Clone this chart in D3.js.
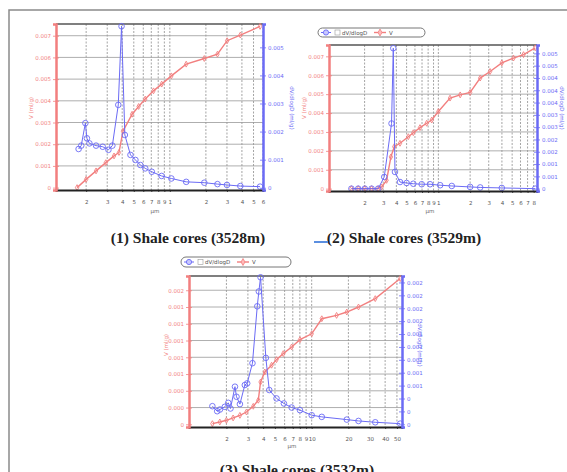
<!DOCTYPE html>
<html>
<head>
<meta charset="utf-8">
<script src="https://cdn.jsdelivr.net/npm/d3@7/dist/d3.min.js"></script>
<style>
  body { margin: 0; background: #fff; }
  svg { display: block; }
</style>
</head>
<body>
<script>
// (1) Shale cores (3528m)
const C1_V_D  = [0.168, 0.2, 0.242, 0.292, 0.342, 0.376, 0.406, 0.484, 0.549, 0.623, 0.73, 0.855, 1.03, 1.37, 1.94, 2.5, 3.01, 3.88, 5.67];
const C1_V    = [0, 0.00038, 0.00077, 0.00115, 0.00146, 0.00162, 0.0026, 0.00338, 0.00374, 0.00408, 0.00446, 0.00477, 0.00515, 0.00569, 0.00595, 0.00615, 0.00677, 0.00703, 0.00743];
const C1_DV_D = [0.173, 0.182, 0.197, 0.203, 0.213, 0.242, 0.275, 0.307, 0.331, 0.371, 0.395, 0.421, 0.469, 0.516, 0.567, 0.623, 0.707, 0.854, 1.03, 1.37, 1.94, 2.5, 3.0, 3.88, 5.67];
const C1_DV   = [0.00138, 0.0015, 0.0023, 0.00176, 0.00158, 0.0015, 0.00146, 0.00135, 0.0015, 0.00295, 0.00575, 0.00188, 0.00117, 0.00099, 0.00081, 0.00069, 0.00057, 0.00042, 0.00033, 0.00021, 0.00018, 0.00013, 0.0001, 0.00006, 0.00004];
const C1_XTICKS  = [0.2, 0.3, 0.4, 0.5, 0.6, 0.7, 0.8, 0.9, 1, 2, 3, 4, 5, 6];
const C1_XLABELS = ['2', '3', '4', '5', '6', '7', '8', '9', '1', '2', '3', '4', '5', '6'];
const C1_LTICKS  = [0, 0.001, 0.002, 0.003, 0.004, 0.005, 0.006, 0.007];
const C1_RTICKS  = [0, 0.001, 0.002, 0.003, 0.004, 0.005];

// (2) Shale cores (3529m)
const C2_V_D  = [0.150, 0.174, 0.201, 0.233, 0.269, 0.290, 0.323, 0.355, 0.382, 0.433, 0.519, 0.579, 0.67, 0.775, 0.865, 1.0, 1.29, 1.61, 2.0, 2.49, 3.09, 3.99, 5.15, 6.41, 8.27];
const C2_V    = [0, 0, 0, 0, 0, 0.00009, 0.00044, 0.00168, 0.00222, 0.0024, 0.00275, 0.00296, 0.00323, 0.00346, 0.00363, 0.00408, 0.00479, 0.00496, 0.00509, 0.00585, 0.0062, 0.00665, 0.00691, 0.00709, 0.00745];
const C2_DV_D = [0.150, 0.174, 0.201, 0.233, 0.269, 0.307, 0.36, 0.374, 0.388, 0.433, 0.5, 0.579, 0.695, 0.834, 1.04, 1.34, 2.0, 2.49, 3.99, 8.27];
const C2_DV   = [0, 0, 0, 0, 0, 0.000476, 0.00265, 0.00571, 0.00068, 0.00027, 0.00023, 0.0002, 0.00018, 0.00018, 0.00014, 0.00011, 0.00007, 0.00005, 0.00003, 0];
const C2_XTICKS  = [0.2, 0.3, 0.4, 0.5, 0.6, 0.7, 0.8, 0.9, 1, 2, 3, 4, 5, 6, 7, 8];
const C2_XLABELS = ['2', '3', '4', '5', '6', '7', '8', '9', '1', '2', '3', '4', '5', '6', '7', '8'];
const C2_LTICKS  = [0, 0.001, 0.002, 0.003, 0.004, 0.005, 0.006, 0.007];
const C2_RTICKS  = [0, 0.0005, 0.001, 0.0015, 0.002, 0.0025, 0.003, 0.0035, 0.004, 0.0045, 0.005, 0.0055];

// (3) Shale cores (3532m)
const C3_V_D  = [1.535, 1.766, 2.0, 2.27, 2.58, 2.92, 3.32, 3.65, 3.81, 4.13, 4.69, 5.15, 5.85, 6.85, 8.02, 10, 12.1, 16.0, 19.4, 24.2, 33.2, 53.2];
const C3_V    = [0.000008, 0.000028, 0.000048, 0.000076, 0.000107, 0.000147, 0.000215, 0.000287, 0.000505, 0.000625, 0.000705, 0.000772, 0.000844, 0.000923, 0.00101, 0.00108, 0.00126, 0.0013, 0.00134, 0.0014, 0.0015, 0.00174];
const C3_DV_D = [1.535, 1.68, 1.77, 1.94, 2.07, 2.16, 2.35, 2.42, 2.58, 2.83, 2.96, 3.27, 3.58, 3.69, 3.81, 4.21, 4.49, 5.15, 5.92, 6.85, 8.02, 10, 12.1, 19.4, 24.2, 33.2, 53.2];
const C3_DV   = [0.000281, 0.000203, 0.000229, 0.000271, 0.000333, 0.000245, 0.000583, 0.000427, 0.000313, 0.000609, 0.000635, 0.000948, 0.00183, 0.00206, 0.00228, 0.00103, 0.000531, 0.000401, 0.000323, 0.00026, 0.000219, 0.000141, 0.000115, 0.000073, 0.000052, 0.000031, 0.00001];
const C3_XTICKS  = [2, 3, 4, 5, 6, 7, 8, 9, 10, 20, 30, 40, 50];
const C3_XLABELS = ['2', '3', '4', '5', '6', '7', '8', '9', '10', '20', '30', '40', '50'];
const C3_LTICKS  = [0, 0.0002, 0.0004, 0.0006, 0.0008, 0.001, 0.0012, 0.0014, 0.0016];
const C3_RTICKS  = [0, 0.0002, 0.0004, 0.0006, 0.0008, 0.001, 0.0012, 0.0014, 0.0016, 0.0018, 0.002, 0.0022];

const CAPTIONS = ['(1) Shale cores (3528m)', '(2) Shale cores (3529m)', '(3) Shale cores (3532m)'];

const RED = '#f27f7f';
const BLUE = '#6b6bf5';

const fmt3 = d => d === 0 ? '0' : d3.format('.3f')(d);
const fmt3trim = d => d === 0 ? '0' : d3.format('.3~f')(d);

const svg = d3.select('body').append('svg')
              .attr('width', 567)
              .attr('height', 472);

// outer frame
svg.append('path')
   .attr('d', 'M9,472V10H567')
   .attr('fill', 'none')
   .attr('stroke', '#8a8a8a')
   .attr('stroke-width', 1.5);

const charts = [
  { left: 56, right: 263, top: 24, bottom: 190,
    xDomain: [0.112, 6], lDomain: [-0.00011, 0.00754], rDomain: [-0.00008, 0.00583],
    vd: C1_V_D, v: C1_V, dvd: C1_DV_D, dv: C1_DV,
    xTicks: C1_XTICKS, xLabels: C1_XLABELS, lTicks: C1_LTICKS, rTicks: C1_RTICKS,
    lFmt: fmt3, rFmt: fmt3,
    caption: CAPTIONS[0], capX: 188, capY: 243,
    unitX: 155, unitY: 213, lTitleX: 33, rTitleX: 290, titleY: 108, legend: null },
  { left: 329, right: 537, top: 45, bottom: 191,
    xDomain: [0.092, 8.6], lDomain: [-0.000124, 0.0076], rDomain: [-0.000095, 0.00584],
    vd: C2_V_D, v: C2_V, dvd: C2_DV_D, dv: C2_DV,
    xTicks: C2_XTICKS, xLabels: C2_XLABELS, lTicks: C2_LTICKS, rTicks: C2_RTICKS,
    lFmt: fmt3, rFmt: fmt3,
    caption: CAPTIONS[1], capX: 404, capY: 243,
    unitX: 430, unitY: 213, lTitleX: 306, rTitleX: 560, titleY: 108,
    legend: { x: 318, y: 28, w: 107, h: 9 } },
  { left: 189, right: 402, top: 276, bottom: 427,
    xDomain: [0.987, 55], lDomain: [-0.000032, 0.00177], rDomain: [-0.000042, 0.0023],
    vd: C3_V_D, v: C3_V, dvd: C3_DV_D, dv: C3_DV,
    xTicks: C3_XTICKS, xLabels: C3_XLABELS, lTicks: C3_LTICKS, rTicks: C3_RTICKS,
    lFmt: fmt3, rFmt: fmt3trim,
    caption: CAPTIONS[2], capX: 297, capY: 475,
    unitX: 292, unitY: 448, lTitleX: 168, rTitleX: 418, titleY: 345,
    legend: { x: 181, y: 257, w: 110, h: 10 } }
];

charts.forEach(drawChart);

// little blue stroke left of caption (2)
svg.append('line')
   .attr('x1', 314).attr('x2', 328).attr('y1', 242).attr('y2', 242)
   .attr('stroke', '#5b8fe0').attr('stroke-width', 2);

function drawChart(c) {
  let g = svg.append('g');

  let x = d3.scaleLog().domain(c.xDomain).range([c.left, c.right]);
  let yL = d3.scaleLinear().domain(c.lDomain).range([c.bottom, c.top]);
  let yR = d3.scaleLinear().domain(c.rDomain).range([c.bottom, c.top]);

  // grid
  g.append('g').selectAll('line').data(c.xTicks).join('line')
   .attr('x1', d => x(d)).attr('x2', d => x(d))
   .attr('y1', c.top).attr('y2', c.bottom)
   .attr('stroke', '#7c7c7c').attr('stroke-width', 0.7)
   .attr('stroke-dasharray', '2,1.5');

  g.append('g').selectAll('line').data(c.lTicks.slice(1)).join('line')
   .attr('x1', c.left).attr('x2', c.right)
   .attr('y1', d => yL(d)).attr('y2', d => yL(d))
   .attr('stroke', '#999').attr('stroke-width', 0.8);

  g.append('line')
   .attr('x1', c.left).attr('x2', c.right).attr('y1', c.top).attr('y2', c.top)
   .attr('stroke', '#555').attr('stroke-width', 1.5);

  // V curve (red)
  let vPts = c.vd.map((d, i) => [d, c.v[i]]);
  g.append('path')
   .datum(vPts)
   .attr('fill', 'none').attr('stroke', RED).attr('stroke-width', 1.4)
   .attr('d', d3.line().x(d => x(d[0])).y(d => yL(d[1])));
  g.append('g').selectAll('path').data(vPts).join('path')
   .attr('transform', d => 'translate(' + x(d[0]) + ',' + yL(d[1]) + ')')
   .attr('d', d3.symbol().type(d3.symbolDiamond).size(10))
   .attr('fill', 'none').attr('stroke', RED).attr('stroke-width', 0.9);

  // dV/dlogD curve (blue)
  let dvPts = c.dvd.map((d, i) => [d, c.dv[i]]);
  g.append('path')
   .datum(dvPts)
   .attr('fill', 'none').attr('stroke', BLUE).attr('stroke-width', 1)
   .attr('d', d3.line().x(d => x(d[0])).y(d => yR(d[1])));
  g.append('g').selectAll('circle').data(dvPts).join('circle')
   .attr('cx', d => x(d[0])).attr('cy', d => yR(d[1])).attr('r', 2.8)
   .attr('fill', 'none').attr('stroke', BLUE).attr('stroke-width', 0.9);

  // axes
  let xAxis = g.append('g')
               .attr('transform', 'translate(0,' + c.bottom + ')')
               .call(d3.axisBottom(x).tickValues(c.xTicks)
                       .tickFormat((d, i) => c.xLabels[i]).tickSize(2).tickPadding(8));
  styleAxis(xAxis, '#222', '#555', 2);

  let lAxis = g.append('g')
               .attr('transform', 'translate(' + c.left + ',0)')
               .call(d3.axisLeft(yL).tickValues(c.lTicks).tickFormat(c.lFmt)
                       .tickSize(3).tickPadding(2));
  styleAxis(lAxis, RED, RED, 2.5);

  let rAxis = g.append('g')
               .attr('transform', 'translate(' + c.right + ',0)')
               .call(d3.axisRight(yR).tickValues(c.rTicks).tickFormat(c.rFmt)
                       .tickSize(3).tickPadding(2));
  styleAxis(rAxis, BLUE, BLUE, 2.5);
  rAxis.selectAll('.tick line').attr('x1', -3);
  lAxis.selectAll('.tick line').attr('x1', 3);

  // axis titles
  g.append('text')
   .attr('transform', 'translate(' + c.lTitleX + ',' + c.titleY + ') rotate(-90)')
   .attr('text-anchor', 'middle').attr('fill', RED)
   .attr('font-family', 'DejaVu Sans').attr('font-size', 5.5)
   .text('V (ml/g)');
  g.append('text')
   .attr('transform', 'translate(' + c.rTitleX + ',' + c.titleY + ') rotate(90)')
   .attr('text-anchor', 'middle').attr('fill', BLUE)
   .attr('font-family', 'DejaVu Sans').attr('font-size', 5.5)
   .text('dV/dlogD (ml/g)');
  g.append('text')
   .attr('x', c.unitX).attr('y', c.unitY)
   .attr('text-anchor', 'middle').attr('fill', '#666')
   .attr('font-family', 'DejaVu Sans').attr('font-size', 5.5)
   .text('μm');

  // legend
  if (c.legend) {
    let L = c.legend;
    let lg = g.append('g').attr('transform', 'translate(' + L.x + ',' + L.y + ')');
    lg.append('rect')
      .attr('width', L.w).attr('height', L.h).attr('rx', L.h / 2)
      .attr('fill', '#fff').attr('stroke', '#777').attr('stroke-width', 1);
    let cy = L.h / 2;
    lg.append('line').attr('x1', 3).attr('x2', 13).attr('y1', cy).attr('y2', cy)
      .attr('stroke', BLUE).attr('stroke-width', 1);
    lg.append('circle').attr('cx', 8).attr('cy', cy).attr('r', 2.6)
      .attr('fill', '#c8c8ff').attr('stroke', BLUE).attr('stroke-width', 0.9);
    lg.append('rect').attr('x', 17).attr('y', cy - 2.5).attr('width', 5).attr('height', 5)
      .attr('fill', 'none').attr('stroke', '#999').attr('stroke-width', 0.6);
    lg.append('text').attr('x', 24).attr('y', cy + 2)
      .attr('font-family', 'DejaVu Sans').attr('font-size', 5.5).attr('fill', '#555')
      .text('dV/dlogD');
    lg.append('line').attr('x1', 56).attr('x2', 68).attr('y1', cy).attr('y2', cy)
      .attr('stroke', RED).attr('stroke-width', 1.4);
    lg.append('path').attr('transform', 'translate(62,' + cy + ')')
      .attr('d', d3.symbol().type(d3.symbolDiamond).size(14))
      .attr('fill', '#fbb').attr('stroke', RED).attr('stroke-width', 0.8);
    lg.append('text').attr('x', 71).attr('y', cy + 2)
      .attr('font-family', 'DejaVu Sans').attr('font-size', 5.5).attr('fill', '#555')
      .text('V');
  }

  // caption
  svg.append('text')
     .attr('x', c.capX).attr('y', c.capY)
     .attr('text-anchor', 'middle')
     .attr('font-family', 'Liberation Serif').attr('font-weight', 'bold')
     .attr('font-size', 15.5).attr('fill', '#222')
     .text(c.caption);
}

function styleAxis(a, lineColor, textColor, width) {
  a.select('.domain').attr('stroke', lineColor).attr('stroke-width', width);
  a.selectAll('.tick line').attr('stroke', lineColor).attr('stroke-width', 0.8);
  a.selectAll('.tick text')
   .attr('fill', textColor)
   .attr('font-family', 'DejaVu Sans')
   .attr('font-size', 5.5);
}
</script>
</body>
</html>
